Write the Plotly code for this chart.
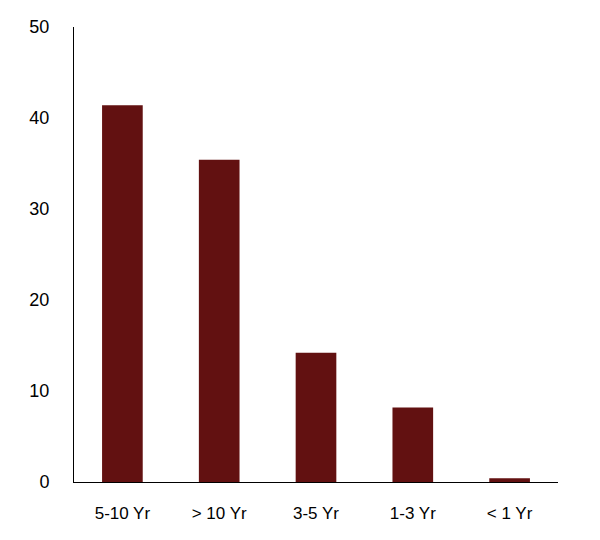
import plotly.graph_objects as go

categories = ["5-10 Yr", "> 10 Yr", "3-5 Yr", "1-3 Yr", "< 1 Yr"]
values = [41.4, 35.4, 14.2, 8.2, 0.4]

fig = go.Figure(go.Bar(x=categories, y=values, marker_color="#621111", marker_line_width=0))
fig.update_layout(
    width=600, height=540,
    margin=dict(l=66, r=50, t=19, b=66, autoexpand=False),
    plot_bgcolor="white", paper_bgcolor="white",
    bargap=0.58, showlegend=False,
    font=dict(family="Liberation Sans, Arial", size=18, color="black"),
)
fig.update_yaxes(range=[0, 50], dtick=10, showgrid=False, showline=True, linecolor="black",
                 linewidth=1, ticks="", zeroline=False, ticklabelstandoff=20, automargin=False)
fig.update_xaxes(showline=True, linecolor="black", linewidth=1, ticks="", tickfont=dict(size=17),
                 ticklabelstandoff=16, automargin=False)
fig.write_html("out.html")
